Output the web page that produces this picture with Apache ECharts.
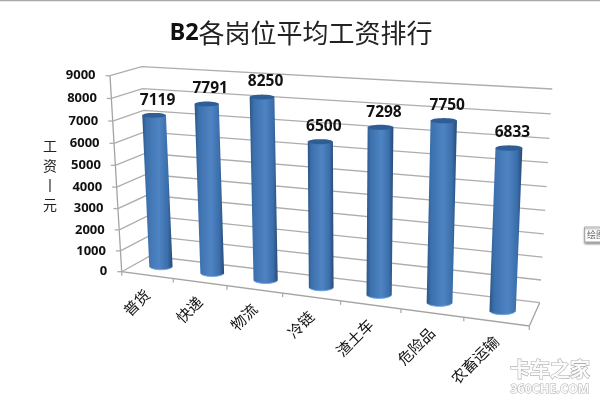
<!DOCTYPE html>
<html><head><meta charset="utf-8">
<style>html,body{margin:0;padding:0;background:#fff;overflow:hidden}#c{width:600px;height:400px}</style>
<script src="https://cdn.jsdelivr.net/npm/echarts@6/dist/echarts.min.js"></script>
</head><body><div id="c"></div>
<script>
const categories = ['普货','快递','物流','冷链','渣土车','危险品','农畜运输'];
const wages = [7119,7791,8250,6500,7298,7750,6833];
const yTicks = [0,1000,2000,3000,4000,5000,6000,7000,8000,9000];
const titleLatin = 'B2';
const titleCjk = '各岗位平均工资排行';
const yName = ['工','资','丨','元'];

// picture frame of the perspective box
const FL0=[121.7,271.7], FL1=[110,75.7], BL0=[150,256], BL1=[141.7,66.7], BR0=[539.7,302.7], BR1=[552.3,89], FR0=[529.3,326];
const vPersp=-0.05, uPersp=-0.13;
function edge(A,B,k,t){const w=1+k*t;return [(A[0]+(B[0]*(1+k)-A[0])*t)/w,(A[1]+(B[1]*(1+k)-A[1])*t)/w];}
function quad(p0,p1,p2,p3){
  const dx1=p1[0]-p2[0],dx2=p3[0]-p2[0],sx=p0[0]-p1[0]+p2[0]-p3[0];
  const dy1=p1[1]-p2[1],dy2=p3[1]-p2[1],sy=p0[1]-p1[1]+p2[1]-p3[1];
  const den=dx1*dy2-dx2*dy1;
  const g=(sx*dy2-dx2*sy)/den,h=(dx1*sy-sx*dy1)/den;
  const a=p1[0]-p0[0]+g*p1[0],b=p3[0]-p0[0]+h*p3[0],d=p1[1]-p0[1]+g*p1[1],e=p3[1]-p0[1]+h*p3[1];
  return (u,v)=>{const w=g*u+h*v+1;return [(a*u+b*v+p0[0])/w,(d*u+e*v+p0[1])/w];};
}
// plane through the middle of the box depth, where the columns stand
const barPlane=quad([136,263.2],[535.2,315.2],[545.5,95.5],[126.2,72]);

function norm(params,api,i,val){
  const cs=params.coordSys,p=api.coord([i,val]);
  return {u:(p[0]-cs.x)/cs.width,v:(cs.y+cs.height-p[1])/cs.height,bw:api.size([1,0])[0]/cs.width};
}
const gridColor='#adadad';

function renderWall(params,api){
  const n=norm(params,api,0,api.value(1));
  const F=edge(FL0,FL1,vPersp,n.v),B=edge(BL0,BL1,vPersp,n.v),R=edge(BR0,BR1,vPersp,n.v);
  const lw={stroke:gridColor,lineWidth:1.3,fill:null};
  const ch=[
   {type:'polyline',shape:{points:[F,B,R]},style:lw},
   {type:'line',shape:{x1:F[0]-4.5,y1:F[1],x2:F[0],y2:F[1]},style:lw},
   {type:'text',x:F[0]-14.5,y:F[1],style:{text:String(api.value(1)),align:'right',verticalAlign:'middle',
     font:'bold 13px "Open Sans"',fill:'#111'}}
  ];
  if(n.v===0){
    ch.push({type:'polyline',shape:{points:[FL1,FL0,FR0,BR0]},style:{stroke:'#a3a3a3',lineWidth:1.3,fill:null}});
    ch.push({type:'line',shape:{x1:FR0[0],y1:FR0[1],x2:FR0[0],y2:FR0[1]+4},style:lw});
    ch.push({type:'line',shape:{x1:FL0[0],y1:FL0[1],x2:FL0[0],y2:FL0[1]+4},style:lw});
  }
  return {type:'group',children:ch};
}
function renderCat(params,api){
  const i=api.value(0),n=norm(params,api,i,0);
  const tick=edge(FL0,FR0,uPersp,n.u+n.bw/2),mid=edge(FL0,FR0,uPersp,n.u);
  const ch=[{type:'text',x:mid[0],y:mid[1]+17,rotation:Math.PI/4,
    style:{text:categories[i],align:'right',verticalAlign:'middle',font:'15px "Noto Sans CJK SC"',fill:'#111'}}];
  if(i<categories.length-1) ch.push({type:'line',shape:{x1:tick[0],y1:tick[1],x2:tick[0],y2:tick[1]+4},style:{stroke:gridColor,lineWidth:1.3}});
  return {type:'group',children:ch};
}
function ell(c,a,b,from,to,steps){
  const pts=[];
  for(let k=0;k<=steps;k++){const t=from+(to-from)*k/steps;pts.push([c[0]+a*Math.cos(t),c[1]+b*Math.sin(t)]);}
  return pts;
}
function renderBar(params,api){
  const i=api.value(0),n=norm(params,api,i,api.value(1));
  const ru=0.031;
  const base=barPlane(n.u,0),top=barPlane(n.u,n.v);
  const aB=Math.sqrt(12.4*(barPlane(n.u+ru,0)[0]-barPlane(n.u-ru,0)[0])/2);
  const aT=Math.sqrt(12.4*(barPlane(n.u+ru,n.v)[0]-barPlane(n.u-ru,n.v)[0])/2);
  const bB=aB*0.28,bT=aT*0.2;
  const body=[[top[0]-aT,top[1]]].concat(ell(base,aB,bB,Math.PI,0,24)).concat([[top[0]+aT,top[1]]]);
  const grad=new echarts.graphic.LinearGradient(0,0,1,0,[
    {offset:0,color:'#2b5484'},{offset:.14,color:'#3c70ac'},{offset:.55,color:'#4f84c4'},
    {offset:.84,color:'#3b6eaa'},{offset:1,color:'#264a75'}]);
  return {type:'group',children:[
    {type:'polygon',shape:{points:body},style:{fill:grad}},
    {type:'polyline',shape:{points:ell(base,aB*0.94,bB,Math.PI*0.9,Math.PI*0.1,16)},style:{stroke:'#6ea5e2',lineWidth:1,fill:null}},
    {type:'polygon',shape:{points:ell(top,aT,bT,0,Math.PI*2,32)},style:{fill:'#2f5e96'}},
    {type:'text',x:top[0]+3.5,y:top[1]-15,style:{text:String(api.value(1)),align:'center',verticalAlign:'middle',
      font:'bold 15.5px "Open Sans"',fill:'#111'}}
  ]};
}

const chart=echarts.init(document.getElementById('c'),null,{renderer:'canvas'});
chart.setOption({
  animation:false,
  backgroundColor:'#fff',
  title:{left:296,top:11,textAlign:'center',
    text:'{a|'+titleLatin+'}{b|'+titleCjk+'}',
    textStyle:{fontWeight:'normal',rich:{
      a:{fontFamily:'"Open Sans"',fontWeight:'bold',fontSize:23.5,color:'#111',lineHeight:34},
      b:{fontFamily:'"Noto Sans CJK SC"',fontWeight:'normal',fontSize:26,color:'#222',lineHeight:34}}}},
  grid:{left:100,top:50,width:400,height:200},
  xAxis:{type:'category',data:categories,show:false},
  yAxis:{type:'value',min:0,max:9000,interval:1000,show:false},
  graphic:[
    {type:'line',shape:{x1:0,y1:0.5,x2:600,y2:0.5},style:{stroke:'#a8a8a8',lineWidth:1.5}},
    {type:'text',x:50,y:175,style:{text:yName.join('\n'),align:'center',verticalAlign:'middle',lineHeight:19.5,
      font:'14px "Noto Sans CJK SC"',fill:'#222'}},
    {type:'rect',shape:{x:584.5,y:227,width:20,height:15},style:{fill:'#fff',stroke:'#aaa',lineWidth:1,shadowBlur:2,shadowColor:'#999',shadowOffsetY:1.5}},
    {type:'text',x:587,y:234.5,style:{text:'绘图',verticalAlign:'middle',font:'9px "Noto Sans CJK SC"',fill:'#666'}},
    {type:'text',x:550,y:369,z:50,style:{text:'卡车之家',align:'center',verticalAlign:'middle',font:'bold 20px "Noto Sans CJK SC"',fill:'#fbfbfb',
      stroke:'rgba(130,130,130,.65)',lineWidth:1.2,shadowBlur:3,shadowColor:'rgba(70,70,70,.8)',shadowOffsetX:1,shadowOffsetY:1}},
    {type:'text',x:550,y:389,z:50,style:{text:'360CHE.COM',align:'center',verticalAlign:'middle',font:'bold 12.5px "Open Sans"',fill:'#fbfbfb',
      stroke:'rgba(130,130,130,.65)',lineWidth:1,shadowBlur:3,shadowColor:'rgba(70,70,70,.8)',shadowOffsetX:1,shadowOffsetY:1}}
  ],
  series:[
    {type:'custom',silent:true,z:1,clip:false,renderItem:renderWall,data:yTicks.map(t=>[0,t]),encode:{x:0,y:1}},
    {type:'custom',silent:true,z:2,clip:false,renderItem:renderCat,data:categories.map((c,i)=>[i,0]),encode:{x:0,y:1}},
    {type:'custom',silent:true,z:3,clip:false,renderItem:renderBar,data:wages.map((w,i)=>[i,w]),encode:{x:0,y:1}}
  ]
});
</script></body></html>
